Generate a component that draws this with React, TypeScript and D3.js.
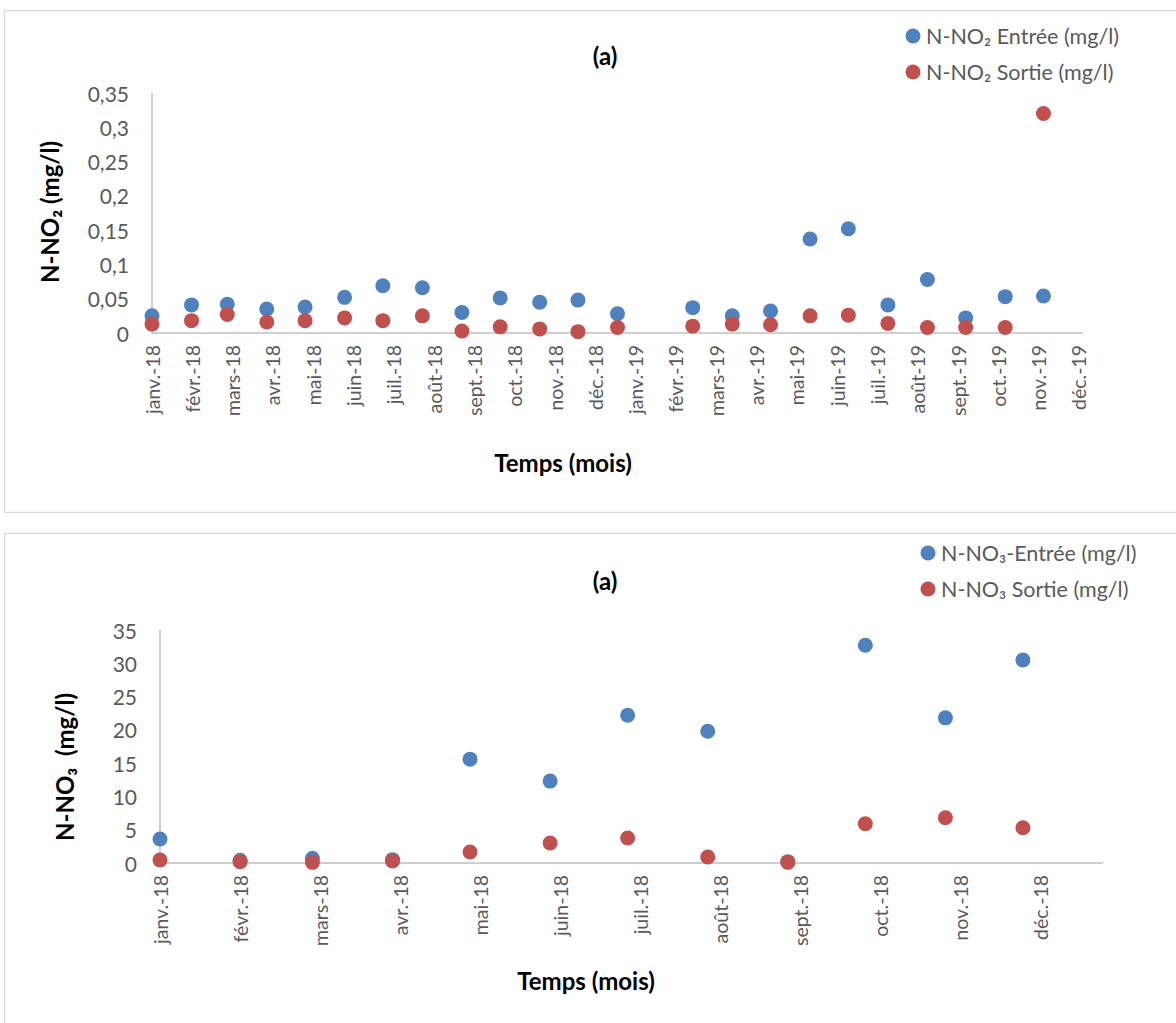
import React from "react";
import * as d3 from "d3";

// N-NO2, samples at each month start (févr.-19 missing)
const no2Dates = [
  "2018-01-01", "2018-02-01", "2018-03-01", "2018-04-01", "2018-05-01", "2018-06-01",
  "2018-07-01", "2018-08-01", "2018-09-01", "2018-10-01", "2018-11-01", "2018-12-01",
  "2019-01-01", "2019-03-01", "2019-04-01", "2019-05-01", "2019-06-01", "2019-07-01",
  "2019-08-01", "2019-09-01", "2019-10-01", "2019-11-01", "2019-12-01",
];
const no2Entree = [
  0.025, 0.041, 0.042, 0.035, 0.038, 0.052, 0.069, 0.066, 0.030, 0.051, 0.045, 0.048,
  0.028, 0.037, 0.025, 0.032, 0.137, 0.152, 0.041, 0.078, 0.022, 0.053, 0.054,
];
const no2Sortie = [
  0.013, 0.018, 0.027, 0.016, 0.018, 0.022, 0.018, 0.025, 0.003, 0.009, 0.006, 0.002,
  0.008, 0.010, 0.013, 0.012, 0.025, 0.026, 0.014, 0.008, 0.008, 0.008, 0.320,
];
const no2XLabels = [
  "janv.-18", "févr.-18", "mars-18", "avr.-18", "mai-18", "juin-18", "juil.-18", "août-18",
  "sept.-18", "oct.-18", "nov.-18", "déc.-18", "janv.-19", "févr.-19", "mars-19", "avr.-19",
  "mai-19", "juin-19", "juil.-19", "août-19", "sept.-19", "oct.-19", "nov.-19", "déc.-19",
];
const no2YTicks = [0, 0.05, 0.1, 0.15, 0.2, 0.25, 0.3, 0.35];

// N-NO3, 2018
const no3Dates = [
  "2018-01-01", "2018-02-01", "2018-03-01", "2018-04-01", "2018-05-01", "2018-06-01",
  "2018-07-01", "2018-08-01", "2018-09-01", "2018-10-01", "2018-11-01", "2018-12-01",
];
const no3Entree = [3.6, 0.4, 0.7, 0.5, 15.6, 12.3, 22.2, 19.8, 0.2, 32.7, 21.8, 30.5];
const no3Sortie = [0.45, 0.2, 0.1, 0.3, 1.65, 3.0, 3.75, 0.9, 0.1, 5.9, 6.8, 5.3];
const no3XLabels = [
  "janv.-18", "févr.-18", "mars-18", "avr.-18", "mai-18", "juin-18", "juil.-18", "août-18",
  "sept.-18", "oct.-18", "nov.-18", "déc.-18",
];
const no3YTicks = [0, 5, 10, 15, 20, 25, 30, 35];

const BLUE = "#4F81BD";
const RED = "#C0504D";
const AXIS = "#BFBFBF";
const GREY_TEXT = "#595959";
const FONT = "Lato, 'Open Sans', sans-serif";
const DAY = 86400000;

const frFormat = d3.formatLocale({
  decimal: ",",
  thousands: " ",
  grouping: [3],
  currency: ["", " €"],
}).format("");

const parse = (s: string) => d3.utcParse("%Y-%m-%d")(s) as Date;

type PanelProps = {
  top: number;
  dates: string[];
  entree: number[];
  sortie: number[];
  xLabels: string[];
  yTicks: number[];
  domainEnd: string;
  tickStepDays: number;
  x0: number;
  x1: number;
  y0: number;
  y1: number;
  yTitle: string;
  yTitleX: number;
  yTitleY: number;
  xTitleX: number;
  xTitleY: number;
  legend: string[];
  legendX: number;
  legendY: number;
  titleY: number;
  tickEnd: number;
};

const Panel = (p: PanelProps) => {
  const start = parse(p.dates[0]);
  // date axis, Excel-style: major unit in days from the axis minimum
  const x = d3.scaleUtc().domain([start, parse(p.domainEnd)]).range([p.x0, p.x1]);
  const y = d3
    .scaleLinear()
    .domain([0, p.yTicks[p.yTicks.length - 1]])
    .range([p.y0, p.y1]);
  const tickDates = p.xLabels.map((_, i) => new Date(start.getTime() + i * p.tickStepDays * DAY));

  return (
    <g>
      <rect x={4.5} y={p.top + 0.5} width={1200} height={502} fill="#fff" stroke="#D9D9D9" strokeWidth={1.3} />
      <text x={605} y={p.titleY} textAnchor="middle" dominantBaseline="central" fontFamily={FONT} fontWeight="bold" fontSize={24} fill="#000">
        (a)
      </text>
      <line x1={p.x0} x2={p.x0} y1={p.y0} y2={p.y1} stroke={AXIS} strokeWidth={1.5} />
      <line x1={p.x0} x2={p.x1} y1={p.y0} y2={p.y0} stroke={AXIS} strokeWidth={1.5} />
      {p.yTicks.map((t) => (
        <text key={t} x={p.tickEnd} y={y(t)} textAnchor="end" dominantBaseline="central" fontFamily={FONT} fontSize={21} fill={GREY_TEXT}>
          {frFormat(t)}
        </text>
      ))}
      {tickDates.map((d, i) => (
        <text
          key={i}
          transform={`translate(${x(d)},${p.y0 + 12}) rotate(-90)`}
          textAnchor="end"
          dominantBaseline="central"
          fontFamily={FONT}
          fontSize={19.5}
          fill={GREY_TEXT}
        >
          {p.xLabels[i]}
        </text>
      ))}
      {p.dates.map((d, i) => (
        <circle key={"e" + i} cx={x(parse(d))} cy={y(p.entree[i])} r={7.5} fill={BLUE} />
      ))}
      {p.dates.map((d, i) => (
        <circle key={"s" + i} cx={x(parse(d))} cy={y(p.sortie[i])} r={7.5} fill={RED} />
      ))}
      <text
        transform={`translate(${p.yTitleX},${p.yTitleY}) rotate(-90)`}
        textAnchor="middle"
        dominantBaseline="central"
        fontFamily={FONT}
        fontWeight="bold"
        fontSize={24}
        fill="#000"
        style={{ whiteSpace: "pre" }}
      >
        {p.yTitle}
      </text>
      <text x={p.xTitleX} y={p.xTitleY} textAnchor="middle" dominantBaseline="central" fontFamily={FONT} fontWeight="bold" fontSize={24} fill="#000">
        Temps (mois)
      </text>
      {p.legend.map((label, i) => (
        <g key={i} transform={`translate(${p.legendX},${p.legendY + i * 36})`}>
          <circle cx={0} cy={0} r={7.5} fill={i === 0 ? BLUE : RED} />
          <text x={13} y={0} dominantBaseline="central" fontFamily={FONT} fontSize={21.5} fill={GREY_TEXT}>
            {label}
          </text>
        </g>
      ))}
    </g>
  );
};

export default function App() {
  return (
    <div style={{ position: "absolute", left: 0, top: 0 }}>
      <svg width={1176} height={1023} style={{ display: "block", background: "#fff" }}>
        <Panel
          top={10}
          dates={no2Dates}
          entree={no2Entree}
          sortie={no2Sortie}
          xLabels={no2XLabels}
          yTicks={no2YTicks}
          domainEnd="2020-01-01"
          tickStepDays={31.6}
          x0={152}
          x1={1083}
          y0={333}
          y1={93}
          yTitle="N-NO₂ (mg/l)"
          yTitleX={49}
          yTitleY={212}
          xTitleX={563}
          xTitleY={462}
          legend={["N-NO₂ Entrée (mg/l)", "N-NO₂ Sortie (mg/l)"]}
          legendX={913}
          legendY={36}
          titleY={55}
          tickEnd={129}
        />
        <Panel
          top={533}
          dates={no3Dates}
          entree={no3Entree}
          sortie={no3Sortie}
          xLabels={no3XLabels}
          yTicks={no3YTicks}
          domainEnd="2019-01-01"
          tickStepDays={31}
          x0={160}
          x1={1103}
          y0={863}
          y1={630}
          yTitle="N-NO₃  (mg/l)"
          yTitleX={64}
          yTitleY={767}
          xTitleX={586}
          xTitleY={980}
          legend={["N-NO₃-Entrée (mg/l)", "N-NO₃ Sortie (mg/l)"]}
          legendX={928}
          legendY={553}
          titleY={580}
          tickEnd={137}
        />
      </svg>
    </div>
  );
}
